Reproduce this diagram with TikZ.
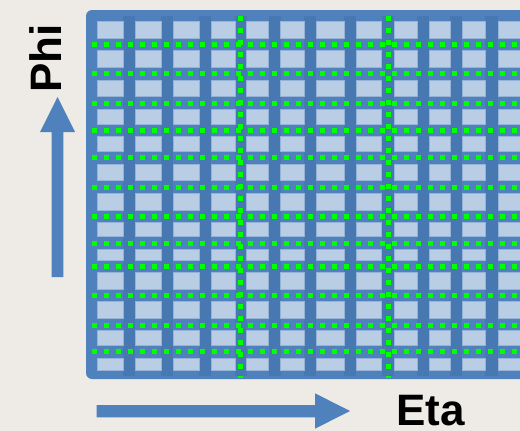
\documentclass[tikz,border=0pt]{standalone}
\usepackage{fontspec}
\setmainfont{Liberation Sans}
\definecolor{bgpaper}{RGB}{238,235,230}
\definecolor{panelblue}{RGB}{79,129,189}
\definecolor{stripeblue}{RGB}{71,120,178}
\definecolor{cellfill}{RGB}{185,205,229}
\definecolor{celledge}{RGB}{149,179,215}
\definecolor{gridgreen}{RGB}{0,255,0}
\tikzset{
  cellbox/.style={fill=cellfill, draw=celledge, line width=0.8pt},
  greendots/.style={draw=gridgreen, line width=5pt, dash pattern=on 5pt off 7pt},
  blockarrow/.style={fill=panelblue},
  axislabel/.style={font=\fontsize{44}{52}\selectfont\bfseries, inner sep=0pt, text=black}
}
\begin{document}
\begin{tikzpicture}[x=1pt,y=-1pt]
\clip (0,0) rectangle (520,431);
\fill[bgpaper] (0,0) rectangle (520,431);
% panel
\fill[panelblue, rounded corners=6pt] (86,10) rectangle (540,379);
% darker column stripes
\foreach \xa/\xb in {123.3/135.3,161/173.3,199/211,235/246.7,268.7/280.7,304/316,344/356.3,381.7/394,417.3/429.3,450/462,485.3/498}
  \fill[stripeblue] (\xa,16) rectangle (\xb,376);
% cells
\foreach \ya/\yb in {21.7/38.3,50.7/67.7,80/96.7,109.3/124,136.7/151.7,164/180.7,193.3/210,222.7/236.7,249.3/260,272.7/289.3,301.7/318.3,330.7/345,358.3/370}
  \foreach \xa/\xb in {97.3/123.3,135.3/161,173.3/199,211/235,246.7/268.7,280.7/304,316/344,356.3/381.7,394/417.3,429.3/450,462/485.3,498/524}
    \path[cellbox] (\xa,\ya) rectangle (\xb,\yb);
% green dotted grid
\foreach \y in {44.3,73.7,103.3,130.7,157.7,187,216.3,243.3,266,295.3,325,351.7}
  \draw[greendots] (91.7,\y) -- (525,\y);
\foreach \x in {240.5,388}
  \draw[greendots] (\x,16) -- (\x,378);
% Phi arrow
\fill[blockarrow] (51.7,277) -- (51.7,132) -- (40,132) -- (57.5,97) -- (75,132) -- (63.3,132) -- (63.3,277) -- cycle;
% Eta arrow
\fill[blockarrow] (96.7,405) -- (315,405) -- (315,393.3) -- (350,411) -- (315,428.7) -- (315,417.3) -- (96.7,417.3) -- cycle;
% labels
\node[axislabel, rotate=90, anchor=base west] (phi) at (61.5,93) {Phi};
\node[axislabel, anchor=base west] (eta) at (396,425) {Eta};
\end{tikzpicture}
\end{document}
